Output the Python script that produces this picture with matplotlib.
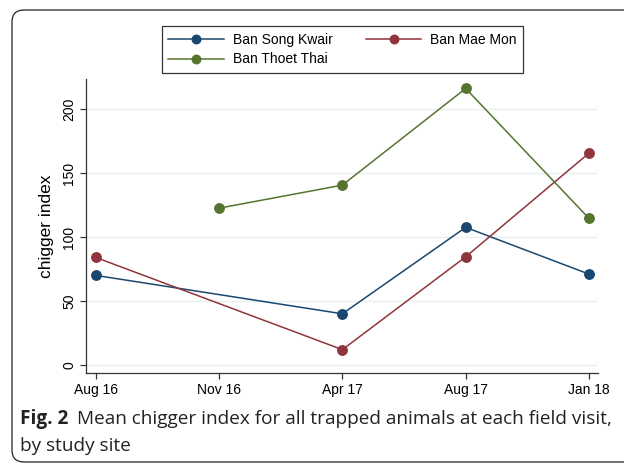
import numpy as np
import matplotlib.pyplot as plt
from matplotlib.patches import FancyBboxPatch
from matplotlib.transforms import IdentityTransform

# mean chigger index per field visit (nan = site not visited)
visits = ["Aug 16", "Nov 16", "Apr 17", "Aug 17", "Jan 18"]
song_kwair = [70, np.nan, 40, 107.5, 71]
mae_mon = [84, np.nan, 12, 84.5, 165.5]
thoet_thai = [np.nan, 122.5, 140.5, 216, 114.5]
yticks = [0, 50, 100, 150, 200]

W, H = 624, 465
plt.rcParams['font.family'] = ['Liberation Sans', 'DejaVu Sans']
fig = plt.figure(figsize=(W / 100, H / 100), dpi=100)

# plot area in pixel coords
x0, x1, ytop, ybot = 86, 598, 79, 373
ax = fig.add_axes([x0 / W, (H - ybot) / H, (x1 - x0) / W, (ybot - ytop) / H])

xs = np.arange(len(visits))
series = [("Ban Song Kwair", song_kwair, "#1a476f"),
          ("Ban Mae Mon", mae_mon, "#90353b"),
          ("Ban Thoet Thai", thoet_thai, "#55752f")]
handles = {}
for name, vals, col in series:
    v = np.array(vals, dtype=float)
    ok = ~np.isnan(v)
    h, = ax.plot(xs[ok], v[ok], '-o', color=col, lw=1.1, ms=6.8,
                 label=name, zorder=3)
    handles[name] = h

ax.set_xlim(-0.079, 4.073)
ax.set_ylim(-6.25, 223.4)
ax.set_xticks(xs)
ax.set_xticklabels(visits, fontsize=10)
ax.set_yticks(yticks)
ax.set_yticklabels([str(t) for t in yticks], fontsize=10, rotation=90, va='center')
ax.tick_params(axis='both', length=4, width=0.9, color='#333333', pad=3)
ax.grid(axis='y', color='#e8f0f2', lw=1.0)
ax.set_axisbelow(True)
for s in ['top', 'right']:
    ax.spines[s].set_visible(False)
for s in ['left', 'bottom']:
    ax.spines[s].set_color('#333333')
    ax.spines[s].set_linewidth(0.9)
ax.set_ylabel("chigger index", fontsize=12.5, labelpad=6)

order = ["Ban Song Kwair", "Ban Thoet Thai", "Ban Mae Mon"]
leg = fig.legend([handles[n] for n in order], order, ncol=2, loc='center',
                 bbox_to_anchor=(342.5 / W, 1 - 49.5 / H), fontsize=10,
                 handlelength=4.0, handletextpad=0.65, columnspacing=2.4,
                 labelspacing=0.42, fancybox=False, framealpha=1,
                 borderpad=0.45, markerscale=0.9)
leg.get_frame().set_edgecolor('#333333')
leg.get_frame().set_linewidth(0.9)

# rounded frame around figure and caption
frame = FancyBboxPatch((12, H - 462), 660, 452, boxstyle="round,pad=0,rounding_size=12",
                       transform=IdentityTransform(), fill=False, ec='#222222', lw=0.9)
fig.patches.append(frame)

cap_font = ['Open Sans', 'DejaVu Sans']
cap_size = 13.7
t1 = fig.text(20 / W, (H - 424) / H, "Fig. 2", fontsize=cap_size, fontweight='bold',
              family=cap_font, color='#222222', va='baseline')
fig.canvas.draw()
bb = t1.get_window_extent(fig.canvas.get_renderer())
fig.text((bb.x1 + 9) / W, (H - 424) / H,
         "Mean chigger index for all trapped animals at each field visit,",
         fontsize=cap_size, family=cap_font, color='#222222', va='baseline')
fig.text(20 / W, (H - 451) / H, "by study site", fontsize=cap_size,
         family=cap_font, color='#222222', va='baseline')

fig.savefig("out.png", dpi=100)
